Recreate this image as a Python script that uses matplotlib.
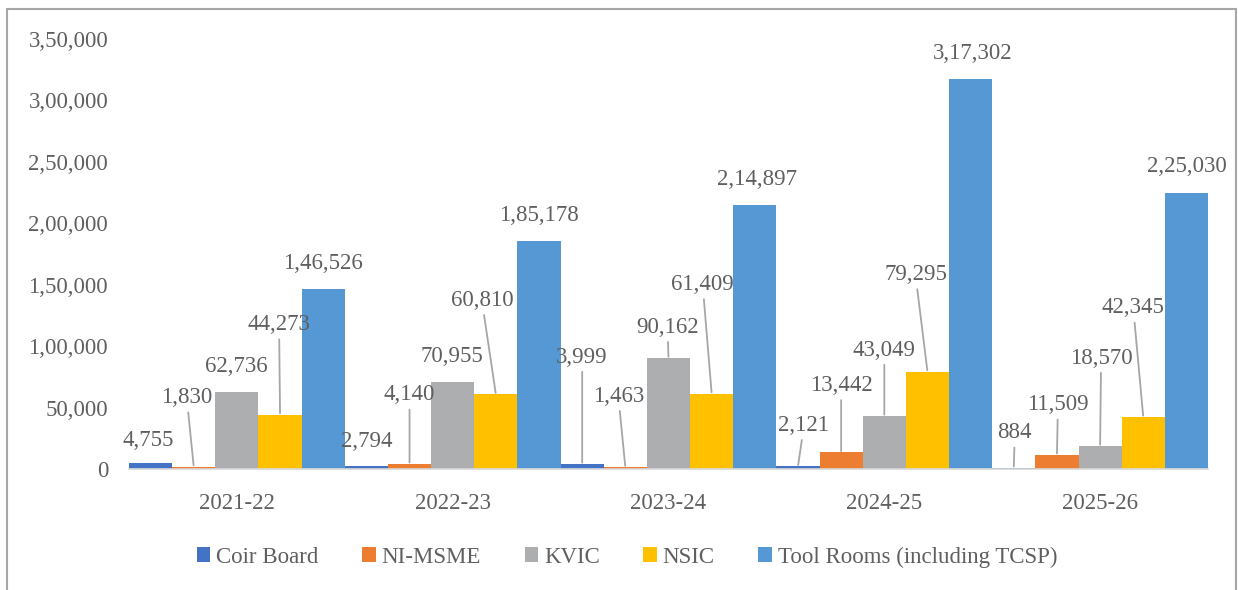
import matplotlib.pyplot as plt
import numpy as np
from matplotlib.patches import Rectangle

# chart data
years = ["2021-22", "2022-23", "2023-24", "2024-25", "2025-26"]
series_names = ["Coir Board", "NI-MSME", "KVIC", "NSIC", "Tool Rooms (including TCSP)"]
coir_board = [4755, 2794, 3999, 2121, 884]
ni_msme = [1830, 4140, 1463, 13442, 11509]
kvic = [62736, 70955, 90162, 43049, 18570]
nsic = [44273, 60810, 61409, 79295, 42345]
tool_rooms = [146526, 185178, 214897, 317302, 225030]
y_ticks = [0, 50000, 100000, 150000, 200000, 250000, 300000, 350000]

colors = ["#4472C4", "#ED7D31", "#ADAEB0", "#FFC000", "#5698D4"]
text_color = "#5F5F5F"

# label placement (pixel offsets from bar top, leader line on/off)
label_offsets = [
    [(-2, 23, False), (0, 24, False), (0, 107, True), (6, 41, True), (1, 35, True)],
    [(-7, 69, True), (0, 69, True), (-7, 71, True), (0, 67, True), (1, 50, True)],
    [(-1, 25, False), (-1, 25, False), (-1, 31, True), (0, 66, True), (1, 88, True)],
    [(-1, 90, True), (-14, 94, True), (-9, 109, True), (-12, 97, True), (-10, 109, True)],
    [(0, 25, False), (0, 26, False), (2, 25, False), (2, 26, False), (0, 26, False)],
]


def indian_format(v):
    s = str(int(v))
    if len(s) <= 3:
        return s
    head, tail = s[:-3], s[-3:]
    parts = []
    while len(head) > 2:
        parts.insert(0, head[-2:])
        head = head[:-2]
    if head:
        parts.insert(0, head)
    return ",".join(parts) + "," + tail


plt.rcParams["font.family"] = ["Liberation Serif", "DejaVu Serif"]

fig = plt.figure(figsize=(12.38, 5.9), dpi=100)
ax = fig.add_axes([129 / 1238, 121 / 590, 1079 / 1238, 430 / 590])

all_series = [coir_board, ni_msme, kvic, nsic, tool_rooms]
x = np.arange(len(years))
width = 0.2

for j, (name, vals) in enumerate(zip(series_names, all_series)):
    pos = x + (j - 2) * width
    ax.bar(pos, vals, width, color=colors[j], label=name, zorder=2)
    for i, v in enumerate(vals):
        dx, dy, leader = label_offsets[j][i]
        props = None
        if leader:
            props = dict(arrowstyle="-", color="#A6A6A6", lw=1.3,
                         shrinkA=1, shrinkB=1)
        ax.annotate(indian_format(v), xy=(pos[i], v), xytext=(dx, dy),
                    textcoords="offset pixels", ha="center", va="center",
                    fontsize=16.5, color=text_color, arrowprops=props, zorder=3)

ax.set_xlim(-0.5, 4.5)
ax.set_ylim(0, 350000)
ax.set_yticks(y_ticks)
ax.set_yticklabels([indian_format(t) for t in y_ticks])
ax.set_xticks(x)
ax.set_xticklabels(years)
ax.tick_params(axis="both", length=0, labelsize=16.5, labelcolor=text_color)
ax.tick_params(axis="x", pad=17)
ax.tick_params(axis="y", pad=15)

for side in ["top", "right", "left"]:
    ax.spines[side].set_visible(False)
ax.spines["bottom"].set_color("#D9D9D9")
ax.spines["bottom"].set_linewidth(1.2)
ax.spines["bottom"].set_zorder(4)

fig.legend(loc="center", bbox_to_anchor=(627 / 1238, 33 / 590), ncol=5,
           frameon=False, fontsize=16.5, handlelength=0.6, handleheight=0.6,
           handletextpad=0.25, columnspacing=1.9, labelcolor=text_color)

# outer chart border
fig.patches.append(Rectangle((7 / 1238, -0.05), 1229 / 1238, 0.05 + 581 / 590,
                             transform=fig.transFigure, fill=False,
                             edgecolor="#A6A6A6", linewidth=1.5))

fig.savefig("out.png", dpi=100)
plt.close(fig)
